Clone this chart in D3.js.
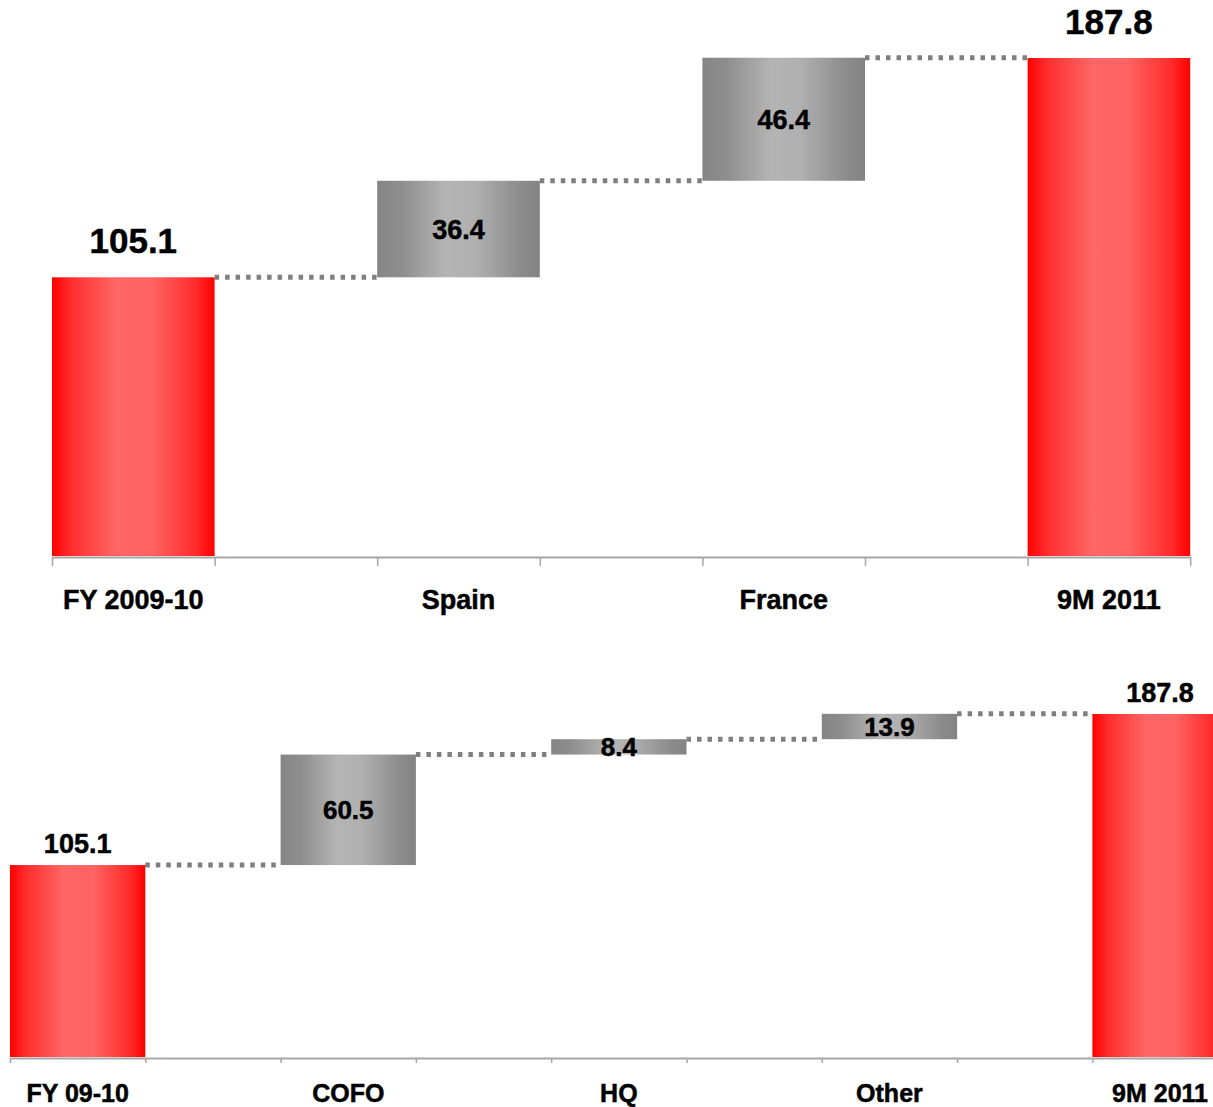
<!DOCTYPE html>
<html>
<head>
<meta charset="utf-8">
<script src="https://cdn.jsdelivr.net/npm/d3@7"></script>
<style>
  html, body { margin: 0; padding: 0; background: #ffffff; }
  svg { display: block; }
  text { font-family: "Liberation Sans", Arial, sans-serif; font-weight: bold; fill: #000; stroke: #000; stroke-width: 0.5px; }
</style>
</head>
<body>
<svg id="chart" width="1213" height="1107"></svg>
<script>
// ---- Data: top bridge (by country) ----
const topCategories = ["FY 2009-10", "Spain", "France", "9M 2011"];
const topValues     = [105.1, 36.4, 46.4, 187.8];
const topKinds      = ["total", "delta", "delta", "total"];

// ---- Data: bottom bridge (by unit) ----
const bottomCategories = ["FY 09-10", "COFO", "HQ", "Other", "9M 2011"];
const bottomValues     = [105.1, 60.5, 8.4, 13.9, 187.8];
const bottomKinds      = ["total", "delta", "delta", "delta", "total"];

const svg = d3.select("#chart");

const defs = svg.append("defs");
function addGradient(id, stops) {
  const g = defs.append("linearGradient")
    .attr("id", id).attr("x1", "0%").attr("x2", "100%").attr("y1", "0%").attr("y2", "0%");
  stops.forEach(([o, c]) => g.append("stop").attr("offset", o).attr("stop-color", c));
}
addGradient("redGrad", [[0, "#ff0000"], [0.12, "#ff2e2e"], [0.4, "#ff6666"], [0.62, "#ff6262"], [0.88, "#ff2c2c"], [1, "#ff0000"]]);
addGradient("grayGrad", [[0, "#858585"], [0.15, "#8e8e8e"], [0.42, "#b4b4b4"], [0.6, "#b0b0b0"], [0.88, "#8c8c8c"], [1, "#838383"]]);

// Build the floating segments for a waterfall from totals and deltas
function buildSteps(values, kinds) {
  let running = 0;
  return values.map((v, i) => {
    let lo, hi;
    if (kinds[i] === "total") { lo = 0; hi = v; running = v; }
    else { lo = running; hi = running + v; running = hi; }
    return { i, value: v, kind: kinds[i], lo, hi };
  });
}

function drawWaterfall(opts) {
  const { categories, values, kinds, x0, slotW, yZero, yTop, topVal, axisTick,
          totalFont, totalGap, deltaFont, catFont, catGap } = opts;
  const nSlots = categories.length * 2 - 1;
  const g = svg.append("g");

  // slots alternate between bars and connector gaps
  const band = d3.scaleBand().domain(d3.range(nSlots)).range([x0, x0 + nSlots * slotW]).padding(0);
  const y = d3.scaleLinear().domain([0, topVal]).range([yZero, yTop]);
  const steps = buildSteps(values, kinds);

  // axis with ticks on slot boundaries
  const xb = d3.scaleLinear().domain([0, nSlots]).range([x0, x0 + nSlots * slotW]);
  const axis = g.append("g").attr("transform", `translate(0,${yZero + 1})`)
    .call(d3.axisBottom(xb).tickValues(d3.range(nSlots + 1)).tickFormat("")
      .tickSize(axisTick).tickSizeOuter(0));
  axis.select(".domain").attr("stroke", "#a6a6a6").attr("stroke-width", 2);
  axis.selectAll(".tick line").attr("stroke", "#a6a6a6").attr("stroke-width", 1.5);

  // dotted connectors from each bar's end level to the next bar
  steps.slice(0, -1).forEach(s => {
    g.append("line")
      .attr("x1", band(s.i * 2) + band.bandwidth())
      .attr("x2", band(s.i * 2 + 2))
      .attr("y1", y(s.hi)).attr("y2", y(s.hi))
      .attr("stroke", "#7f7f7f").attr("stroke-width", 5)
      .attr("stroke-dasharray", "4.5,6");
  });

  // bars
  g.selectAll("rect.bar").data(steps).join("rect")
    .attr("class", "bar")
    .attr("x", d => band(d.i * 2))
    .attr("width", band.bandwidth())
    .attr("y", d => y(d.hi))
    .attr("height", d => y(d.lo) - y(d.hi))
    .attr("fill", d => d.kind === "total" ? "url(#redGrad)" : "url(#grayGrad)");

  // value labels
  g.selectAll("text.val").data(steps).join("text")
    .attr("class", "val")
    .attr("text-anchor", "middle")
    .attr("x", d => band(d.i * 2) + band.bandwidth() / 2)
    .attr("y", d => d.kind === "total" ? y(d.hi) - totalGap : (y(d.lo) + y(d.hi)) / 2)
    .attr("dy", d => d.kind === "total" ? 0 : "0.36em")
    .style("font-size", d => (d.kind === "total" ? totalFont : deltaFont) + "px")
    .text(d => d3.format(".1f")(d.value));

  // category labels
  g.selectAll("text.cat").data(categories).join("text")
    .attr("class", "cat")
    .attr("text-anchor", "middle")
    .attr("x", (d, i) => band(i * 2) + band.bandwidth() / 2)
    .attr("y", yZero + catGap)
    .style("font-size", catFont + "px")
    .text(d => d);
}

drawWaterfall({
  categories: topCategories, values: topValues, kinds: topKinds,
  x0: 52, slotW: 162.6, yZero: 556, yTop: 58, topVal: 187.8, axisTick: 9,
  totalFont: 35, totalGap: 24, deltaFont: 27, catFont: 27, catGap: 53
});

drawWaterfall({
  categories: bottomCategories, values: bottomValues, kinds: bottomKinds,
  x0: 10, slotW: 135.3, yZero: 1057, yTop: 714, topVal: 187.8, axisTick: 5,
  totalFont: 27, totalGap: 12, deltaFont: 26, catFont: 25, catGap: 45
});
</script>
</body>
</html>
